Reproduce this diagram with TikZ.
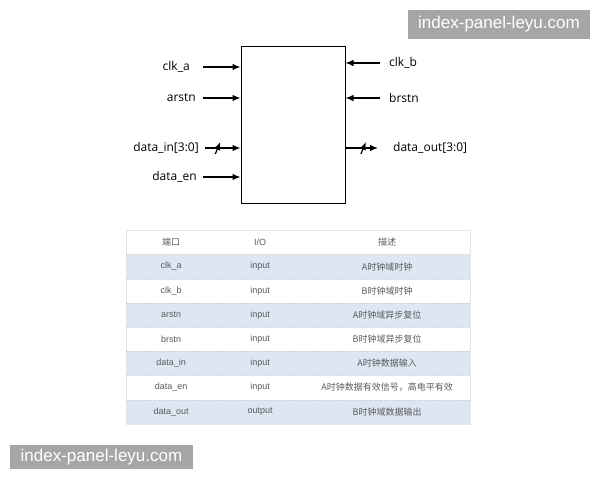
\documentclass[tikz,border=0pt]{standalone}
\usepackage{fontspec}
\setmainfont{Liberation Sans}
\newfontfamily\lblfont{Open Sans}
\newfontfamily\cjk{Noto Sans CJK SC}
\usetikzlibrary{arrows.meta,decorations.markings}

\definecolor{rowblue}{HTML}{DDE7F3}
\definecolor{tblgrey}{HTML}{5A5A5A}
\definecolor{seplight}{HTML}{D4D4D4}
\definecolor{wmgrey}{HTML}{A6A6A6}

\tikzset{
  sig/.style={line width=1.2pt, -{Latex[length=8pt,width=6.5pt]}},
  bus/.style={postaction={decorate}, decoration={markings,
      mark=at position #1 with {\draw[line width=1.2pt] (-2.5,6) -- (2.5,-6);}}},
  siglbl/.style={font=\lblfont\fontsize{12}{14}\selectfont, inner xsep=7pt, inner ysep=2pt},
  cell/.style={font=\fontsize{9}{11}\selectfont, text=tblgrey, inner sep=0pt,
      minimum height=24pt, align=center},
  rowsep/.style={seplight, dashed, dash pattern=on 1.5pt off 1.5pt, line width=0.6pt},
  wmark/.style={fill=wmgrey, text=white, inner sep=0pt,
      font=\fontsize{17}{19}\selectfont}
}

\begin{document}
\begin{tikzpicture}[x=1pt, y=-1pt]
\useasboundingbox (0,0) rectangle (600,480);

% block
\node (blk) [draw, line width=1pt, minimum width=104pt, minimum height=157pt, inner sep=0pt] at (293,124.5) {};

% inputs on the left
\node (lbl_clka) [siglbl, anchor=east, inner xsep=13pt] at (203,67) {clk\_a};
\node (lbl_arstn) [siglbl, anchor=east] at (203,98) {arstn};
\node (lbl_din) [siglbl, anchor=east, inner xsep=6pt] at (205,148) {data\_in[3:0]};
\node (lbl_den) [siglbl, anchor=east, inner xsep=6pt] at (203,177) {data\_en};

% signals on the right
\node (lbl_clkb) [siglbl, anchor=west, inner xsep=9pt] at (380,63) {clk\_b};
\node (lbl_brstn) [siglbl, anchor=west, inner xsep=9pt] at (380,98) {brstn};
\node (lbl_dout) [siglbl, anchor=west, inner xsep=15pt] at (378,148) {data\_out[3:0]};

\draw[sig] (lbl_clka) -- (lbl_clka -| blk.west);
\draw[sig] (lbl_arstn) -- (lbl_arstn -| blk.west);
\draw[sig, bus=0.36] (lbl_din) -- (lbl_din -| blk.west);
\draw[sig] (lbl_den) -- (lbl_den -| blk.west);

\draw[sig] (lbl_clkb) -- (lbl_clkb -| blk.east);
\draw[sig] (lbl_brstn) -- (lbl_brstn -| blk.east);
\draw[sig, bus=0.55] (lbl_dout -| blk.east) -- (lbl_dout);

% port table
\matrix (ports) [anchor=north west, inner sep=0pt, column sep=0pt, row sep=0pt,
  nodes={cell},
  column 1/.style={nodes={text width=90pt}},
  column 2/.style={nodes={text width=88pt}},
  column 3/.style={nodes={text width=166pt}},
  row 2/.style={nodes={fill=rowblue}},
  row 4/.style={nodes={fill=rowblue}},
  row 6/.style={nodes={fill=rowblue}},
  row 8/.style={nodes={fill=rowblue}}] at (126,230) {
   \node (h_port) {\cjk 端口}; & \node (h_io) {I/O}; & \node (h_desc) {\cjk 描述}; \\
   \node (p_clka) {clk\_a}; & \node (io_clka) {input}; & \node (d_clka) {\cjk A时钟域时钟}; \\
   \node (p_clkb) {clk\_b}; & \node (io_clkb) {input}; & \node (d_clkb) {\cjk B时钟域时钟}; \\
   \node (p_arstn) {arstn}; & \node (io_arstn) {input}; & \node (d_arstn) {\cjk A时钟域异步复位}; \\
   \node (p_brstn) {brstn}; & \node (io_brstn) {input}; & \node (d_brstn) {\cjk B时钟域异步复位}; \\
   \node (p_din) {data\_in}; & \node (io_din) {input}; & \node (d_din) {\cjk A时钟数据输入}; \\
   \node (p_den) {data\_en}; & \node (io_den) {input}; & \node (d_den) {\cjk A时钟数据有效信号，高电平有效}; \\
   \node (p_dout) {data\_out}; & \node (io_dout) {output}; & \node (d_dout) {\cjk B时钟域数据输出}; \\
};

\draw[seplight!60, line width=0.6pt] (ports.north west) rectangle (ports.south east);
\draw[rowsep] (h_port.south west) -- (h_desc.south east);
\draw[rowsep] (p_clka.south west) -- (d_clka.south east);
\draw[rowsep] (p_clkb.south west) -- (d_clkb.south east);
\draw[rowsep] (p_arstn.south west) -- (d_arstn.south east);
\draw[rowsep] (p_brstn.south west) -- (d_brstn.south east);
\draw[rowsep] (p_din.south west) -- (d_din.south east);
\draw[rowsep] (p_den.south west) -- (d_den.south east);

% watermarks
\node (wm_top) [wmark, minimum width=182pt, minimum height=29pt] at (499,24.5) {index-panel-leyu.com};
\node (wm_bot) [wmark, minimum width=183pt, minimum height=24pt] at (101.5,457) {index-panel-leyu.com};
\end{tikzpicture}
\end{document}
